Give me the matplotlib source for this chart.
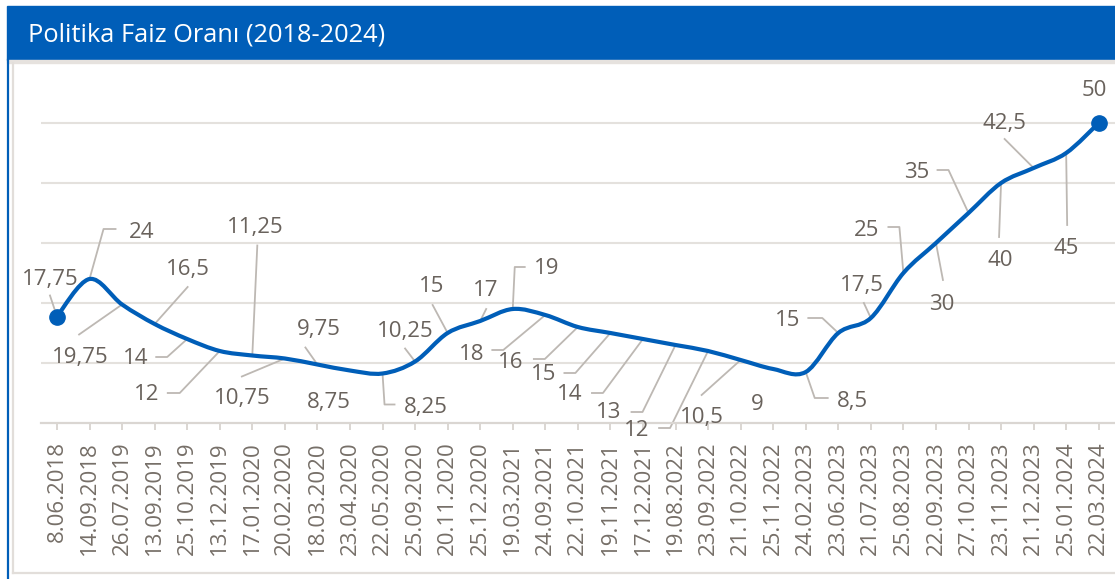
import matplotlib.pyplot as plt
import numpy as np
from matplotlib.path import Path
from matplotlib.patches import PathPatch, Rectangle
from matplotlib.lines import Line2D
from matplotlib.transforms import IdentityTransform

plt.rcParams['font.family'] = ['Open Sans', 'DejaVu Sans']

dates = ["8.06.2018", "14.09.2018", "26.07.2019", "13.09.2019", "25.10.2019",
         "13.12.2019", "17.01.2020", "20.02.2020", "18.03.2020", "23.04.2020",
         "22.05.2020", "25.09.2020", "20.11.2020", "25.12.2020", "19.03.2021",
         "24.09.2021", "22.10.2021", "19.11.2021", "17.12.2021", "19.08.2022",
         "23.09.2022", "21.10.2022", "25.11.2022", "24.02.2023", "23.06.2023",
         "21.07.2023", "25.08.2023", "22.09.2023", "27.10.2023", "23.11.2023",
         "21.12.2023", "25.01.2024", "22.03.2024"]
rates = [17.75, 24, 19.75, 16.5, 14, 12, 11.25, 10.75, 9.75, 8.75, 8.25, 10.25,
         15, 17, 19, 18, 16, 15, 14, 13, 12, 10.5, 9, 8.5, 15, 17.5, 25, 30,
         35, 40, 42.5, 45, 50]
title = "Politika Faiz Oranı (2018-2024)"

# label placement: pixel offset of label centre from its point (x right, y down)
label_off = [(-7, -37), (52, -47), (-42, 53), (33, -54), (-52, 19), (-73, 44),
             (3, -128), (-43, 40), (1, -35), (-21, 32), (43, 34), (-10, -30),
             (-16, -46), (6, -30), (34, -40), (-74, 39), (-67, 35), (-67, 42),
             (-73, 55), (-67, 68), (-71, 80), (-39, 58), (-16, 35), (47, 29),
             (-51, -12), (-9, -33), (-37, -43), (6, 62), (-52, -40), (-1, 77),
             (-29, -45), (0, 95), (-4, -33)]
# leader line vertices, pixel offsets from the point
leaders = [[(-7, -21)], [(14, -50), (26, -50)], [(-43, 30)], [(33, -37)],
           [(-20, 18), (-31, 18)], [(-40, 42), (-52, 42)], [(5, -110)],
           [(-43, 18)], [(-12, -17)], [], [(2, 31), (12, 31)], [(-10, -13)],
           [(-15, -28)], [(6, -12)], [(2, -42), (12, -42)],
           [(-42, 35), (-53, 35)], [(-33, 32), (-44, 32)],
           [(-35, 40), (-46, 40)], [(-40, 54), (-51, 54)],
           [(-33, 67), (-44, 67)], [(-38, 77), (-49, 77)], [(-39, 35)], [],
           [(9, 26), (22, 26)], [(-16, -15), (-30, -15)], [(-7, -15)],
           [(-4, -46), (-15, -46)], [(7, 37)], [(-20, -43), (-31, -43)],
           [(-2, 54)], [(-29, -29)], [(1, 72)], []]

blue = '#005EB8'
text_col = '#69625C'
lead_col = '#BDB8B3'
grid_col = '#E4E1DD'

fig = plt.figure(figsize=(11.15, 5.79), dpi=100)
W, H = 1115, 579

# header band and frame
fig.patches.append(Rectangle((7 / W, 1 - 60 / H), 1, 54 / H, transform=fig.transFigure,
                             color=blue, zorder=0))
fig.patches.append(Rectangle((7 / W, 1 - 63 / H), 1, 3 / H, transform=fig.transFigure,
                             color='#E6E2DE', zorder=0))
fig.add_artist(Line2D([8 / W, 8 / W], [0, 1 - 60 / H], color=blue, lw=1.6))
fig.add_artist(Line2D([13 / W, 13 / W], [6 / H, 1 - 63 / H], color='#E2DEDA', lw=1.6))
fig.add_artist(Line2D([13 / W, 1], [6 / H, 6 / H], color='#E2DEDA', lw=1.6))
fig.text(28 / W, 1 - 35 / H, title, color='white', fontsize=18.3, va='center', ha='left')

ax = fig.add_axes([40.7 / W, (H - 423) / H, 1074.3 / W, 360 / H])
x = np.arange(len(rates))
ax.set_xlim(-0.5, len(rates) - 0.5)
ax.set_ylim(0, 60)
ax.set_yticks([10, 20, 30, 40, 50])
ax.yaxis.grid(True, color=grid_col, lw=1.5)
ax.set_axisbelow(True)
ax.tick_params(axis='y', left=False, labelleft=False)
for s in ['left', 'right', 'top']:
    ax.spines[s].set_visible(False)
ax.spines['bottom'].set_color('#DAD6D2')
ax.spines['bottom'].set_linewidth(1.6)
ax.set_xticks(x)
ax.set_xticklabels(dates, rotation=90, fontsize=16, color='#766F68')
ax.tick_params(axis='x', length=5, width=1.4, color='#DAD6D2', pad=8)

# smoothed line (Catmull-Rom as cubic Bezier segments)
pts = np.column_stack([x, rates]).astype(float)
verts = [pts[0]]
codes = [Path.MOVETO]
n = len(pts)
for i in range(n - 1):
    p0 = pts[max(i - 1, 0)]
    p1 = pts[i]
    p2 = pts[i + 1]
    p3 = pts[min(i + 2, n - 1)]
    verts += [p1 + (p2 - p0) / 6, p2 - (p3 - p1) / 6, p2]
    codes += [Path.CURVE4] * 3
ax.add_patch(PathPatch(Path(verts, codes), fill=False, edgecolor=blue, lw=3,
                       capstyle='round', joinstyle='round', zorder=3))
ax.plot([x[0], x[-1]], [rates[0], rates[-1]], 'o', color=blue, ms=11, zorder=4)

for i, v in enumerate(rates):
    lab = f"{v:g}".replace(".", ",")
    dx, dy = label_off[i]
    ax.annotate(lab, xy=(i, v), xytext=(dx, -dy), textcoords='offset pixels',
                ha='center', va='center', fontsize=16, color=text_col,
                annotation_clip=False)
    if leaders[i]:
        p = ax.transData.transform((i, v))
        lx = [p[0]] + [p[0] + a for a, b in leaders[i]]
        ly = [p[1]] + [p[1] - b for a, b in leaders[i]]
        ax.add_line(Line2D(lx, ly, transform=IdentityTransform(), color=lead_col,
                           lw=1.3, zorder=2, clip_on=False))

fig.savefig("out.png", dpi=100)
